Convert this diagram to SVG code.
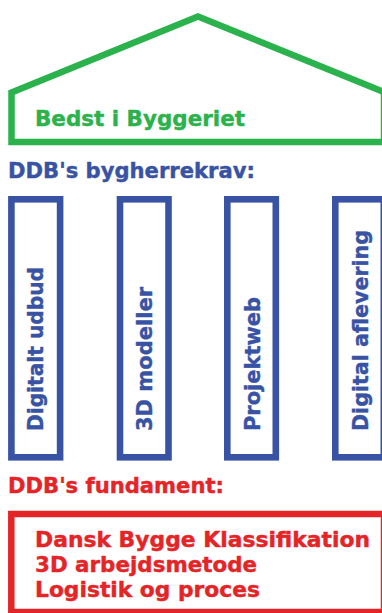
<svg xmlns="http://www.w3.org/2000/svg" width="382" height="613" viewBox="0 0 382 613">
<style>
.t{font-family:"DejaVu Sans","Liberation Sans",sans-serif;font-weight:bold;font-size:20.5px;stroke-width:0.4;stroke-linejoin:round}
.g{fill:#2bb24c;stroke:#2bb24c}.b{fill:#3953a4;stroke:#3953a4}.r{fill:#e42528;stroke:#e42528}
.pl{fill:none;stroke:#3953a4;stroke-width:6.6}
</style>
<rect width="382" height="613" fill="#fff"/>
<g id="house">
<polygon points="11.5,92.5 198,16.5 384,92 384,142 11.5,142" fill="none" stroke="#2bb24c" stroke-width="6.5" stroke-linejoin="miter"/>
<text class="t g" x="35" y="126" textLength="210" lengthAdjust="spacingAndGlyphs">Bedst i Byggeriet</text>
</g>
<g id="krav-title">
<text class="t b" x="8" y="178" textLength="247" lengthAdjust="spacingAndGlyphs">DDB's bygherrekrav:</text>
</g>
<g id="pillar1">
<rect class="pl" x="11.4" y="199.3" width="48.7" height="258"/>
<text class="t b" transform="translate(42.5,431) rotate(-90)" textLength="164" lengthAdjust="spacingAndGlyphs">Digitalt udbud</text>
</g>
<g id="pillar2">
<rect class="pl" x="120" y="199.3" width="48.5" height="258"/>
<text class="t b" transform="translate(151.5,431) rotate(-90)" textLength="144" lengthAdjust="spacingAndGlyphs">3D modeller</text>
</g>
<g id="pillar3">
<rect class="pl" x="227.3" y="199.3" width="48.5" height="258"/>
<text class="t b" transform="translate(259.5,431) rotate(-90)" textLength="134" lengthAdjust="spacingAndGlyphs">Projektweb</text>
</g>
<g id="pillar4">
<rect class="pl" x="335.3" y="199.3" width="48.5" height="258"/>
<text class="t b" transform="translate(367.5,431) rotate(-90)" textLength="201" lengthAdjust="spacingAndGlyphs">Digital aflevering</text>
</g>
<g id="fundament-title">
<text class="t r" x="8" y="493" textLength="216" lengthAdjust="spacingAndGlyphs">DDB's fundament:</text>
</g>
<g id="fundament">
<rect x="11.3" y="514" width="372.7" height="98" fill="none" stroke="#e42528" stroke-width="6.5"/>
<text class="t r" x="35" y="547" textLength="335" lengthAdjust="spacingAndGlyphs">Dansk Bygge Klassifikation</text>
<text class="t r" x="35" y="572" textLength="222" lengthAdjust="spacingAndGlyphs">3D arbejdsmetode</text>
<text class="t r" x="35" y="597" textLength="225" lengthAdjust="spacingAndGlyphs">Logistik og proces</text>
</g>
<g id="connectors"/>
</svg>
